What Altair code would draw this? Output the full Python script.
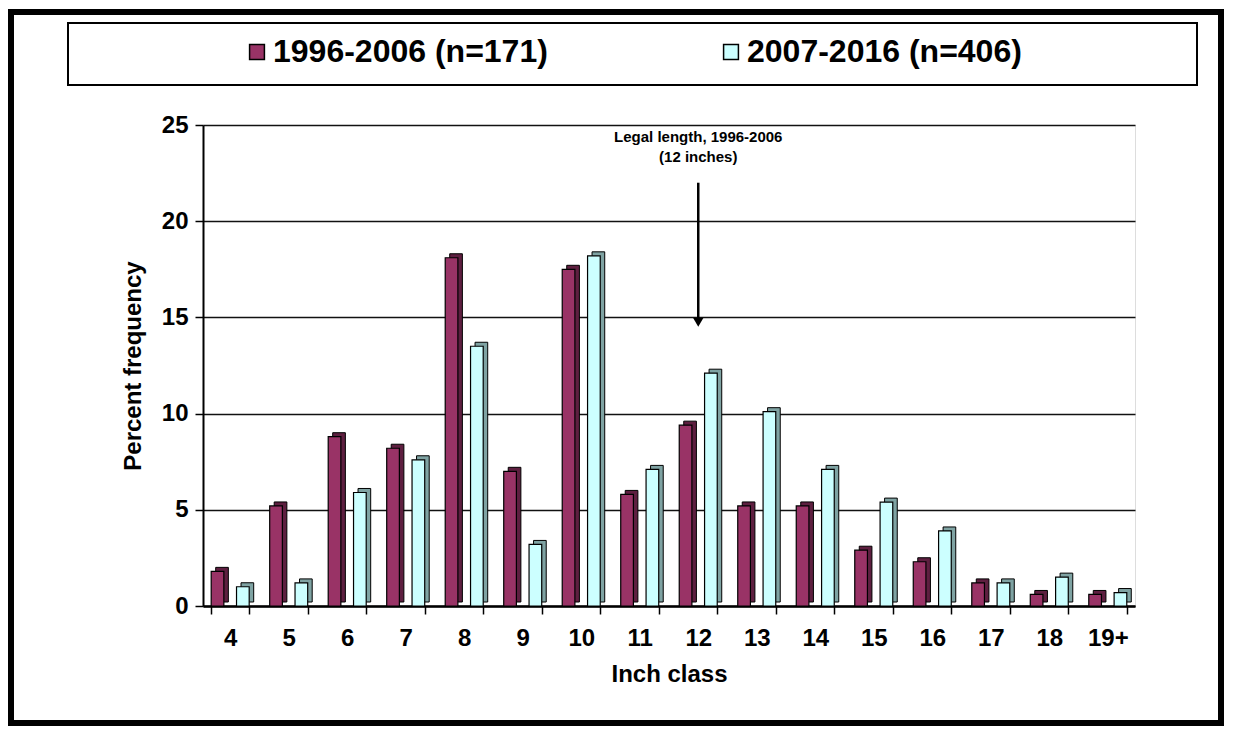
import altair as alt
import pandas as pd

classes = ["4", "5", "6", "7", "8", "9", "10", "11", "12", "13", "14", "15", "16", "17", "18", "19+"]
series_a = "1996-2006 (n=171)"
series_b = "2007-2016 (n=406)"
values_a = [1.8, 5.2, 8.8, 8.2, 18.1, 7.0, 17.5, 5.8, 9.4, 5.2, 5.2, 2.9, 2.3, 1.2, 0.6, 0.6]
values_b = [1.0, 1.2, 5.9, 7.6, 13.5, 3.2, 18.2, 7.1, 12.1, 10.1, 7.1, 5.4, 3.9, 1.2, 1.5, 0.7]
annotation_text = "Legal length, 1996-2006\n(12 inches)"
annotation_class = "12"

rows = []
for c, a, b in zip(classes, values_a, values_b):
    rows.append({"cls": c, "period": series_a, "value": a})
    rows.append({"cls": c, "period": series_b, "value": b})
df = pd.DataFrame(rows)

FONT = "Liberation Sans"
front_colors = ["#993366", "#CCFFFF"]
side_colors = ["#5E1F40", "#7FA3A3"]

x_enc = alt.X("cls:N", sort=classes,
              scale=alt.Scale(paddingInner=0.35, paddingOuter=0.14),
              axis=alt.Axis(title="Inch class", labelAngle=0, tickBand="extent",
                            labelFont=FONT, labelFontWeight="bold", labelFontSize=24,
                            labelColor="black", labelPadding=12, tickSize=8,
                            tickColor="black", tickWidth=1.5, domainColor="black",
                            domainWidth=2.5, titleFont=FONT, titleFontWeight="bold",
                            titleFontSize=24, titleColor="black", titlePadding=12))
y_enc = alt.Y("value:Q",
              scale=alt.Scale(domain=[0, 25], nice=False),
              axis=alt.Axis(title="Percent frequency", values=[0, 5, 10, 15, 20, 25],
                            labelFont=FONT, labelFontWeight="bold", labelFontSize=24,
                            labelColor="black", labelPadding=7, tickSize=8,
                            tickColor="black", tickWidth=1.5, domainColor="black",
                            domainWidth=2, grid=True, gridColor="#111111",
                            gridWidth=1.6, titleFont=FONT, titleFontWeight="bold",
                            titleFontSize=24, titleColor="black", titlePadding=16))

base = alt.Chart(df)

side = base.mark_bar(yOffset=-4, stroke="black", strokeWidth=1).encode(
    x=x_enc,
    xOffset=alt.XOffset("period:N", scale=alt.Scale(paddingInner=0.5, paddingOuter=0,
                                                     range=[4.5, 42.5])),
    y=y_enc,
    fill=alt.condition(alt.datum.period == series_a, alt.value(side_colors[0]),
                       alt.value(side_colors[1])))

front = base.mark_bar(stroke="black", strokeWidth=1.2).encode(
    x=x_enc,
    xOffset=alt.XOffset("period:N", scale=alt.Scale(paddingInner=0.5, paddingOuter=0,
                                                     range=[0, 38])),
    y=y_enc,
    color=alt.Color("period:N",
                    scale=alt.Scale(domain=[series_a, series_b], range=front_colors),
                    legend=alt.Legend(title=None, orient="none", legendX=38, legendY=-89,
                                      direction="horizontal", columns=2, columnPadding=167,
                                      padding=0, symbolType="square", symbolSize=220,
                                      symbolStrokeColor="black", symbolStrokeWidth=1.5,
                                      labelFont=FONT, labelFontWeight="bold",
                                      labelFontSize=32, labelColor="black",
                                      labelOffset=0, labelLimit=500, zindex=5)))

one = pd.DataFrame({"cls": [annotation_class]})

arrow_line = alt.Chart(one).mark_rule(color="black", strokeWidth=2.5).encode(
    x=alt.X("cls:N", sort=classes), y=alt.datum(22.0), y2=alt.datum(14.9))
arrow_head = alt.Chart(one).mark_point(shape="triangle-down", filled=True, color="black",
                                       size=110, opacity=1).encode(
    x=alt.X("cls:N", sort=classes), y=alt.datum(14.75))
label = alt.Chart(one).mark_text(text=annotation_text.split("\n"), font=FONT,
                                 fontWeight="bold", fontSize=15, lineHeight=20,
                                 baseline="top", color="black").encode(
    x=alt.X("cls:N", sort=classes), y=alt.datum(24.75))

deco = pd.DataFrame({"k": [0]})
outer_border = alt.Chart(deco).mark_rect(fill=None, stroke="black", strokeWidth=6).encode(
    x=alt.value(-192), x2=alt.value(1018), y=alt.value(-113), y2=alt.value(598))
legend_box = alt.Chart(deco).mark_rect(fill="white", stroke="black", strokeWidth=2).encode(
    x=alt.value(-135), x2=alt.value(994), y=alt.value(-102), y2=alt.value(-40))

chart = alt.layer(outer_border, legend_box, side, front, arrow_line, arrow_head, label).resolve_scale(
    xOffset="independent"
).properties(
    width=932, height=481,
    autosize=alt.AutoSizeParams(type="none"),
    padding={"left": 195, "top": 117, "right": 90, "bottom": 122},
).configure_view(fill="#C0C0C0", stroke="#808080", strokeWidth=1.5
).configure(background="white")

chart.save("out.html", embed_options={"renderer": "svg", "actions": False})
